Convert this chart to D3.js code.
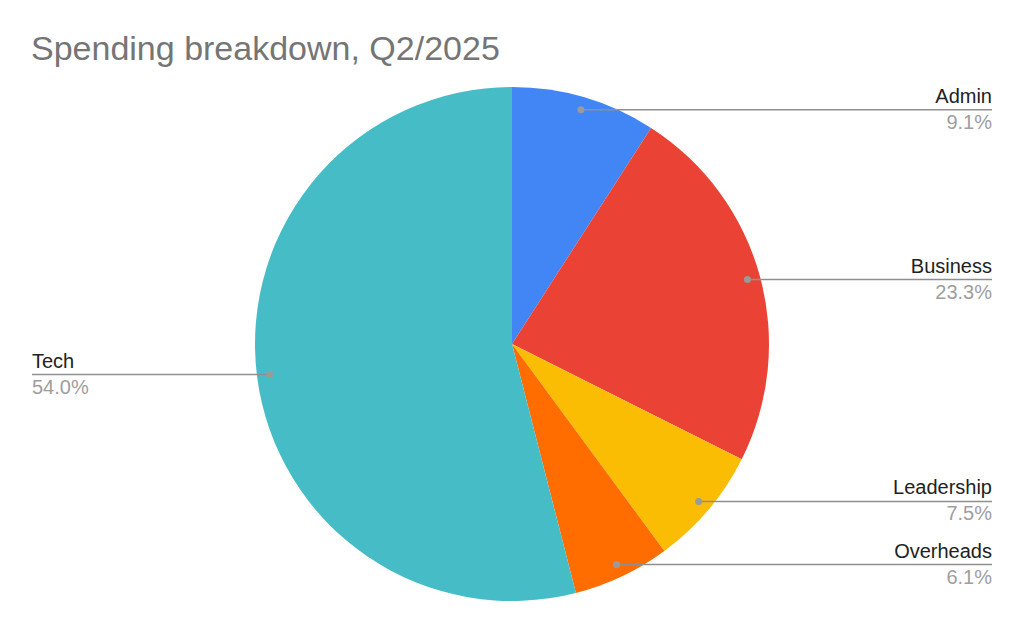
<!DOCTYPE html>
<html>
<head>
<meta charset="utf-8">
<script src="https://cdn.jsdelivr.net/npm/d3@7"></script>
<style>
  body { margin: 0; background: #fff; }
  svg { display: block; font-family: "Liberation Sans", Arial, Helvetica, sans-serif; }
</style>
</head>
<body>
<svg id="chart" width="1024" height="633"></svg>
<script>
// chart data
const categories = ["Admin", "Business", "Leadership", "Overheads", "Tech"];
const shares = [9.1, 23.3, 7.5, 6.1, 54.0];
const sliceColors = ["#4285F4", "#EA4335", "#FBBC04", "#FF6D01", "#46BDC6"];

const width = 1024;
const height = 633;
const cx = 512, cy = 344;
const radius = 257;

const svg = d3.select("#chart");

svg.append("rect")
  .attr("width", width)
  .attr("height", height)
  .attr("fill", "#fff");

// title
svg.append("text")
  .attr("x", 31)
  .attr("y", 60)
  .attr("fill", "#757575")
  .style("font-size", "34px")
  .text("Spending breakdown, Q2/2025");

const data = categories.map(function (c, i) {
  return { name: c, value: shares[i], color: sliceColors[i] };
});

const pie = d3.pie()
  .sort(null)
  .value(function (d) { return d.value; });

const arc = d3.arc()
  .innerRadius(0)
  .outerRadius(radius);

const arcs = pie(data);

const g = svg.append("g")
  .attr("transform", `translate(${cx}, ${cy})`);

g.selectAll("path")
  .data(arcs)
  .join("path")
  .attr("fill", function (d) { return d.data.color; })
  .attr("d", arc);

// label anchors sit at 95% of the radius, at the middle angle
const labelArc = d3.arc()
  .innerRadius(radius * 0.95)
  .outerRadius(radius * 0.95);

const leftX = 32;
const rightX = 992;

const labels = svg.append("g");

arcs.forEach(function (d) {
  const c = labelArc.centroid(d);
  const px = cx + c[0];
  const py = cy + c[1];
  const onRight = c[0] > 0;
  const endX = onRight ? rightX : leftX;

  labels.append("line")
    .attr("x1", px)
    .attr("y1", py)
    .attr("x2", endX)
    .attr("y2", py)
    .attr("stroke", "#8f8f8f")
    .attr("stroke-width", 1.5);

  labels.append("circle")
    .attr("cx", px)
    .attr("cy", py)
    .attr("r", 3.5)
    .attr("fill", "#9a9a9a");

  labels.append("text")
    .attr("x", endX)
    .attr("y", py - 7)
    .attr("text-anchor", onRight ? "end" : "start")
    .attr("fill", "#222")
    .style("font-size", "20px")
    .text(d.data.name);

  labels.append("text")
    .attr("x", endX)
    .attr("y", py + 19)
    .attr("text-anchor", onRight ? "end" : "start")
    .attr("fill", "#9e9e9e")
    .style("font-size", "20px")
    .text(d3.format(".1f")(d.data.value) + "%");
});
</script>
</body>
</html>
